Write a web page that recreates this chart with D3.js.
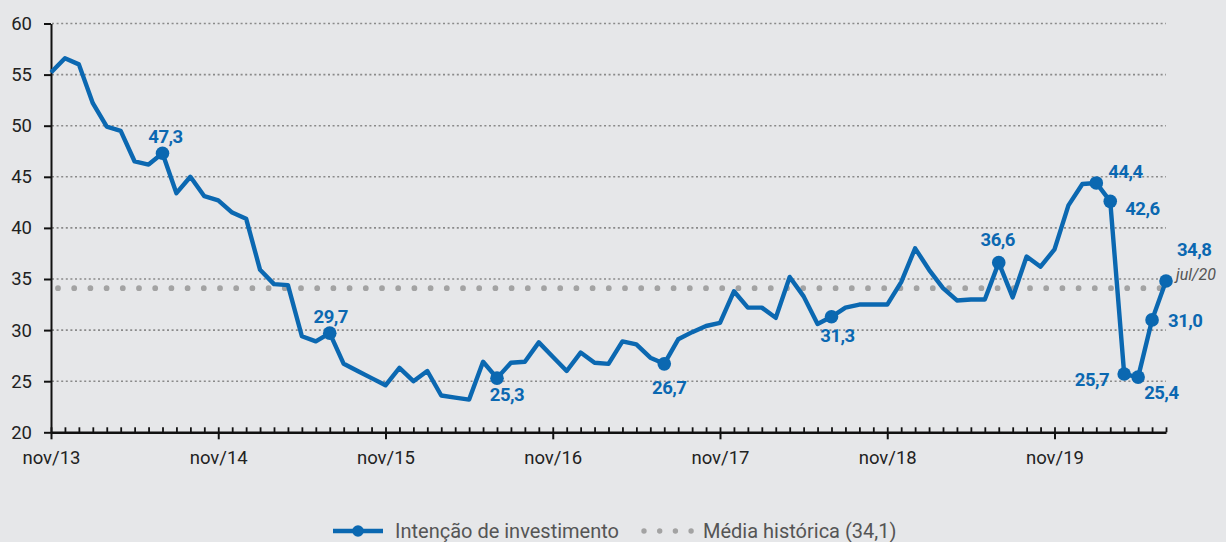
<!DOCTYPE html>
<html>
<head>
<meta charset="utf-8">
<script src="https://cdn.jsdelivr.net/npm/d3@7"></script>
<style>
  html, body { margin: 0; padding: 0; background: #e6e7e9; }
  svg { display: block; font-family: Roboto, "Noto Sans", sans-serif; }
</style>
</head>
<body>
<svg id="chart"></svg>
<script>
// monthly index, nov/13 .. jul/20
const values = [
  55.2, 56.6, 56.0, 52.2, 49.9, 49.5, 46.5, 46.2, 47.3, 43.4, 45.0, 43.1,
  42.7, 41.5, 40.9, 35.9, 34.5, 34.4, 29.4, 28.9, 29.7, 26.7, 26.0, 25.3,
  24.6, 26.3, 25.0, 26.0, 23.6, 23.4, 23.2, 26.9, 25.3, 26.8, 26.9, 28.8,
  27.4, 26.0, 27.8, 26.8, 26.7, 28.9, 28.6, 27.3, 26.7, 29.1, 29.8, 30.4,
  30.7, 33.8, 32.2, 32.2, 31.2, 35.2, 33.3, 30.6, 31.3, 32.2, 32.5, 32.5,
  32.5, 34.7, 38.0, 35.9, 34.1, 32.9, 33.0, 33.0, 36.6, 33.2, 37.2, 36.2,
  37.9, 42.2, 44.3, 44.4, 42.6, 25.7, 25.4, 31.0, 34.8
];
const xTickLabels = ['nov/13', 'nov/14', 'nov/15', 'nov/16', 'nov/17', 'nov/18', 'nov/19'];
const yTicks = [20, 25, 30, 35, 40, 45, 50, 55, 60];
const highlighted = [8, 20, 32, 44, 56, 68, 75, 76, 77, 78, 79, 80];
const lastLabel = 'jul/20';
const mediaHistorica = 34.1;
const seriesNames = ['Intenção de investimento', 'Média histórica (34,1)'];

const W = 1226, H = 542;
const blue = '#0b68b1';
const svg = d3.select('#chart').attr('width', W).attr('height', H);

const x = d3.scaleLinear().domain([0, values.length - 1]).range([51, 1166]);
const y = d3.scaleLinear().domain([20, 60]).range([432.3, 23.5]);

// grid
svg.append('g')
  .selectAll('line')
  .data(yTicks.filter(d => d > 20))
  .join('line')
    .attr('x1', 52).attr('x2', 1166)
    .attr('y1', y).attr('y2', y)
    .attr('stroke', '#8a8a8a')
    .attr('stroke-width', 1.6)
    .attr('stroke-dasharray', '2,2.6');

// média histórica
svg.append('line')
  .attr('x1', 58).attr('x2', 1166)
  .attr('y1', y(mediaHistorica)).attr('y2', y(mediaHistorica))
  .attr('stroke', '#a3a3a3')
  .attr('stroke-width', 5.8)
  .attr('stroke-linecap', 'round')
  .attr('stroke-dasharray', '0,16.2');

// y axis
const yAxis = svg.append('g')
  .attr('transform', 'translate(51,0)')
  .call(d3.axisLeft(y).tickValues(yTicks).tickSize(7).tickPadding(12).tickSizeOuter(0));
yAxis.select('.domain').attr('stroke', '#111').attr('stroke-width', 2);
yAxis.selectAll('.tick line').attr('stroke', '#111').attr('stroke-width', 2);
yAxis.selectAll('.tick text').attr('font-size', 18.5).attr('fill', '#222')
  .attr('font-family', 'Roboto, sans-serif');

// x axis: monthly minor ticks upward, yearly ticks down
const yearIdx = xTickLabels.map((_, i) => i * 12);
const xMinor = svg.append('g')
  .attr('transform', 'translate(0,432.3)')
  .call(d3.axisTop(x).tickValues(d3.range(values.length)).tickSize(5).tickFormat('').tickSizeOuter(0));
xMinor.select('.domain').attr('stroke', '#111').attr('stroke-width', 2.4);
xMinor.selectAll('.tick line').attr('stroke', '#111').attr('stroke-width', 1.8);

const xAxis = svg.append('g')
  .attr('transform', 'translate(0,432.3)')
  .call(d3.axisBottom(x).tickValues(yearIdx).tickSize(7).tickPadding(12)
    .tickFormat((d, i) => xTickLabels[i]));
xAxis.select('.domain').remove();
xAxis.selectAll('.tick line').attr('stroke', '#111').attr('stroke-width', 2);
xAxis.selectAll('.tick text').attr('font-size', 18.5).attr('fill', '#222')
  .attr('font-family', 'Roboto, sans-serif');

// line
const line = d3.line().x((_, i) => x(i)).y(d => y(d));
svg.append('path')
  .datum(values)
  .attr('d', line)
  .attr('fill', 'none')
  .attr('stroke', blue)
  .attr('stroke-width', 4.4)
  .attr('stroke-linejoin', 'round');

svg.append('g')
  .selectAll('circle')
  .data(highlighted)
  .join('circle')
    .attr('cx', i => x(i))
    .attr('cy', i => y(values[i]))
    .attr('r', 6.8)
    .attr('fill', blue);

// value labels (dx, dy, anchor)
const place = {
  8: [3, -10, 'middle'], 20: [1, -10, 'middle'], 32: [10, 23, 'middle'],
  44: [5, 30, 'middle'], 56: [6, 25, 'middle'], 68: [-1, -17, 'middle'],
  75: [12, -5, 'start'], 76: [15, 14, 'start'], 77: [-15, 12, 'end'],
  78: [6, 22, 'start'], 79: [16, 7, 'start'], 80: [11, -25, 'start']
};
const fmt = v => v.toFixed(1).replace('.', ',');
svg.append('g')
  .selectAll('text')
  .data(highlighted)
  .join('text')
    .attr('x', i => x(i) + place[i][0])
    .attr('y', i => y(values[i]) + place[i][1])
    .attr('text-anchor', i => place[i][2])
    .attr('font-size', 18.5)
    .attr('font-weight', 700)
    .attr('fill', blue)
    .attr('letter-spacing', -0.5)
    .text(i => fmt(values[i]));

const last = values.length - 1;
svg.append('text')
  .attr('x', x(last) + 10)
  .attr('y', y(values[last]) - 1)
  .attr('font-size', 16)
  .attr('font-style', 'italic')
  .attr('fill', '#555')
  .text(lastLabel);

// legend
const lg = svg.append('g').attr('transform', 'translate(0,531)');
lg.append('line').attr('x1', 333).attr('x2', 383).attr('stroke', blue).attr('stroke-width', 4.4);
lg.append('circle').attr('cx', 358).attr('r', 5.8).attr('fill', blue);
lg.append('text').attr('x', 395).attr('y', 7).attr('font-size', 20).attr('fill', '#555').text(seriesNames[0]);
lg.append('line').attr('x1', 644).attr('x2', 692)
  .attr('stroke', '#a3a3a3').attr('stroke-width', 5.4).attr('stroke-linecap', 'round')
  .attr('stroke-dasharray', '0,15.7');
lg.append('text').attr('x', 703).attr('y', 7).attr('font-size', 20).attr('fill', '#555').text(seriesNames[1]);
</script>
</body>
</html>
